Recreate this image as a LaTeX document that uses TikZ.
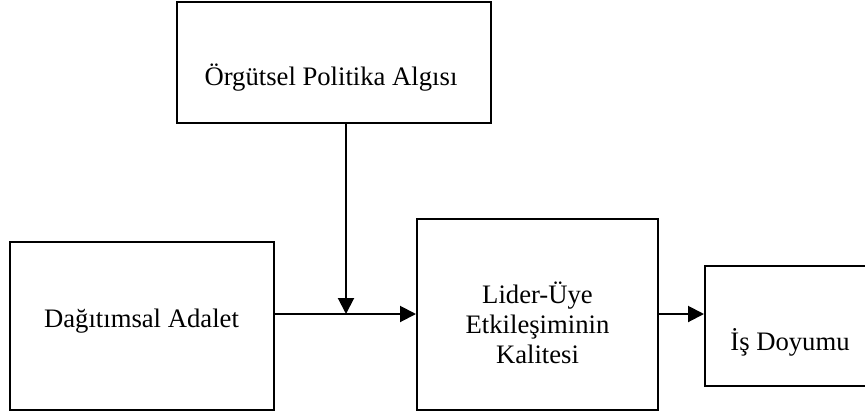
\documentclass[tikz,border=0pt]{standalone}
\usepackage{fontspec}
\setmainfont{Liberation Serif}
\usetikzlibrary{arrows.meta}
\begin{document}
\begin{tikzpicture}[x=0.75pt,y=-0.75pt,
  box/.style={draw=black, line width=1.5pt, rectangle, inner sep=0pt},
  lbl/.style={inner sep=0pt, font=\fontsize{20pt}{22.5pt}\selectfont, align=center},
  conn/.style={line width=1.5pt, -{Triangle[length=12pt,width=12pt]}}]
  \useasboundingbox (0,0) rectangle (865,412);
  \begin{scope}
    \clip (0,0) rectangle (865,412);
    % boxes
    \node[box, minimum width=235.5pt, minimum height=90.75pt] (org) at (334,62.5) {};
    \node[box, minimum width=198pt, minimum height=126pt] (dag) at (142,326) {};
    \node[box, minimum width=180.75pt, minimum height=143.25pt] (lmx) at (537.5,314.5) {};
    \node[box, minimum width=127.5pt, minimum height=90pt] (job) at (790,326) {};
  \end{scope}
  % labels (base anchor of a multi-line label is its last baseline)
  \node[lbl, anchor=base] (torg) at (331,85) {Örgütsel Politika Algısı};
  \node[lbl, anchor=base] (tdag) at (141.5,327) {Dağıtımsal Adalet};
  \node[lbl, anchor=base] (tlmx) at (537.5,363) {Lider-Üye\\Etkileşiminin\\Kalitesi};
  \node[lbl, anchor=base] (tjob) at (790,350) {İş Doyumu};
  % connectors
  \coordinate (j) at (346,314);
  \draw[conn] (dag.east |- j) -- (lmx.west |- j);
  \draw[conn] (org.south -| j) -- (j);
  \draw[conn] (lmx.east |- j) -- (job.west |- j);
\end{tikzpicture}
\end{document}
